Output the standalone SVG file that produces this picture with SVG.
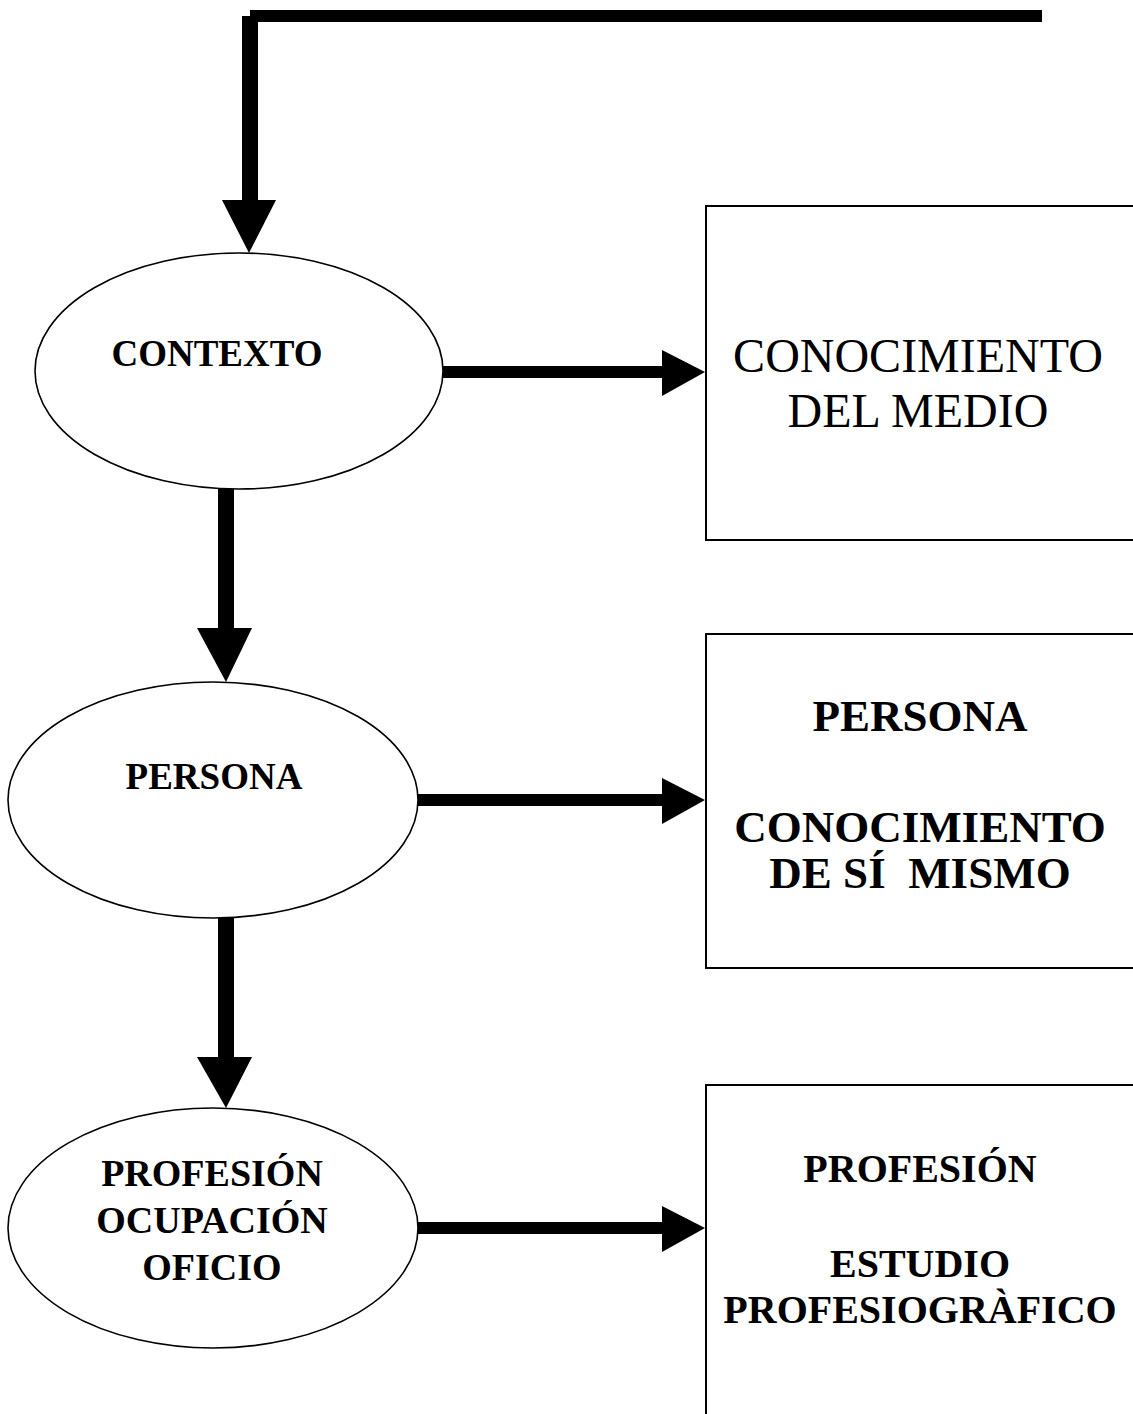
<svg xmlns="http://www.w3.org/2000/svg" width="1133" height="1414" viewBox="0 0 1133 1414">
<style>
.ell{fill:#fff;stroke:#000;stroke-width:1.6}
.box{fill:#fff;stroke:#000;stroke-width:2}
.bar{fill:#000}
.t{font-family:"Liberation Serif","Times New Roman",serif;fill:#000;text-anchor:middle}
.b{font-weight:bold}
</style>
<rect width="1133" height="1414" fill="#fff"/>
<g id="connectors">
<rect class="bar" x="250" y="10" width="792" height="12"/>
<rect class="bar" x="242" y="16" width="16" height="186"/>
<polygon class="bar" points="222,200 276,200 249,253"/>
<rect class="bar" x="442" y="366" width="222" height="12"/>
<polygon class="bar" points="662,350 705,372 662,396"/>
<rect class="bar" x="218" y="489" width="16" height="141"/>
<polygon class="bar" points="197,628 252,628 226,682"/>
<rect class="bar" x="417" y="794" width="247" height="12"/>
<polygon class="bar" points="662,778 705,800 662,824"/>
<rect class="bar" x="218" y="918" width="16" height="141"/>
<polygon class="bar" points="197,1057 252,1057 226,1108"/>
<rect class="bar" x="417" y="1222" width="247" height="12"/>
<polygon class="bar" points="662,1206 705,1228 662,1252"/>
</g>
<g id="contexto">
<ellipse class="ell" cx="239" cy="371" rx="204" ry="118"/>
<text class="t b" x="217" y="366" font-size="37">CONTEXTO</text>
</g>
<g id="persona">
<ellipse class="ell" cx="213" cy="800" rx="205" ry="118"/>
<text class="t b" x="214" y="789" font-size="37">PERSONA</text>
</g>
<g id="profesion">
<ellipse class="ell" cx="213" cy="1228" rx="205" ry="120"/>
<text class="t b" x="212" y="1186" font-size="38">PROFESIÓN</text>
<text class="t b" x="212" y="1233" font-size="38">OCUPACIÓN</text>
<text class="t b" x="212" y="1280" font-size="38">OFICIO</text>
</g>
<g id="medio">
<rect class="box" x="706" y="206" width="440" height="334"/>
<text class="t" x="918" y="372" font-size="48">CONOCIMIENTO</text>
<text class="t" x="918" y="427" font-size="48">DEL MEDIO</text>
</g>
<g id="si-mismo">
<rect class="box" x="706" y="634" width="440" height="334"/>
<text class="t b" x="920" y="731" font-size="45">PERSONA</text>
<text class="t b" x="920" y="842" font-size="45">CONOCIMIENTO</text>
<text class="t b" x="920" y="888" font-size="45" xml:space="preserve">DE SÍ  MISMO</text>
</g>
<g id="profesiografico">
<rect class="box" x="706" y="1085" width="440" height="340"/>
<text class="t b" x="920" y="1182" font-size="40">PROFESIÓN</text>
<text class="t b" x="920" y="1277" font-size="40">ESTUDIO</text>
<text class="t b" x="920" y="1323" font-size="40">PROFESIOGRÀFICO</text>
</g>
</svg>
